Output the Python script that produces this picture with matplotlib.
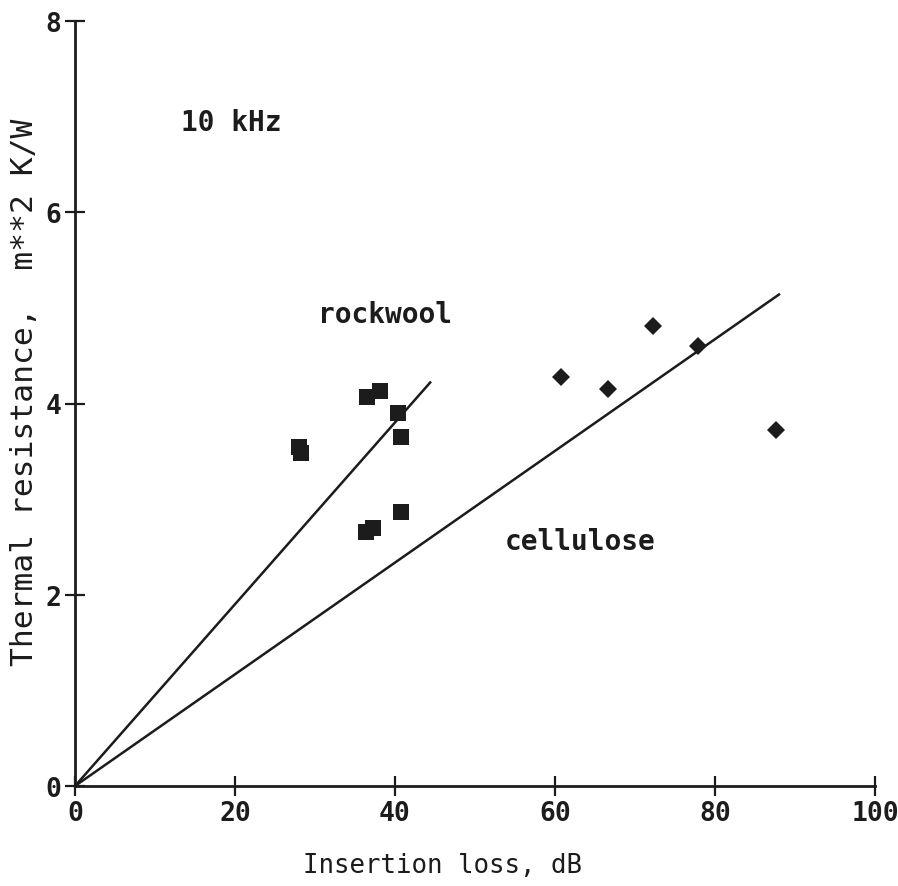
import matplotlib
matplotlib.use("Agg")
import matplotlib.pyplot as plt

# Data
rock_x = [28.0, 28.2, 36.5, 38.1, 40.4, 40.75, 40.75, 36.4, 37.2]
rock_y = [3.55, 3.48, 4.07, 4.13, 3.90, 3.65, 2.87, 2.66, 2.70]
cell_x = [60.8, 66.6, 72.2, 77.9, 87.6]
cell_y = [4.28, 4.15, 4.81, 4.60, 3.72]
rock_line_x = [0, 44.4]
rock_line_y = [0, 4.22]
cell_line_x = [0, 88.0]
cell_line_y = [0, 5.14]
xticks = [0, 20, 40, 60, 80, 100]
yticks = [0, 2, 4, 6, 8]

FONT = "DejaVu Sans Mono"
ink = "#1c1c1c"

fig = plt.figure(figsize=(8.98, 8.87), dpi=100)
ax = fig.add_axes([75/898, 1-787/887, 800/898, 765/887])

ax.plot(rock_line_x, rock_line_y, color=ink, lw=1.8)
ax.plot(cell_line_x, cell_line_y, color=ink, lw=1.8)
ax.plot(rock_x, rock_y, 's', color=ink, ms=11.5, mew=0)
ax.plot(cell_x, cell_y, 'D', color=ink, ms=9.5, mew=0)

ax.set_xlim(0, 100)
ax.set_ylim(0, 8)
ax.set_xticks(xticks)
ax.set_yticks(yticks)
for s in ["top", "right"]:
    ax.spines[s].set_visible(False)
for s in ["left", "bottom"]:
    ax.spines[s].set_linewidth(2.0)
    ax.spines[s].set_color(ink)
ax.tick_params(direction="inout", length=14, width=1.6, colors=ink, labelsize=19, pad=3)
for lab in ax.get_xticklabels() + ax.get_yticklabels():
    lab.set_family(FONT)
    lab.set_fontweight("semibold")

ax.set_xlabel("Insertion loss, dB", fontsize=18.5, family=FONT, color=ink)
ax.xaxis.set_label_coords(0.459, -0.086)
ax.set_ylabel("Thermal resistance,  m**2 K/W", fontsize=22.5, family=FONT, color=ink)
ax.yaxis.set_label_coords(-0.045, 0.516)

ax.text(13.2, 6.94, "10 kHz", fontsize=20, family=FONT, fontweight="bold", color=ink, va="center")
ax.text(30.4, 4.94, "rockwool", fontsize=20, family=FONT, fontweight="bold", color=ink, va="center")
ax.text(53.75, 2.56, "cellulose", fontsize=20, family=FONT, fontweight="bold", color=ink, va="center")

fig.savefig("out.png", dpi=100)
